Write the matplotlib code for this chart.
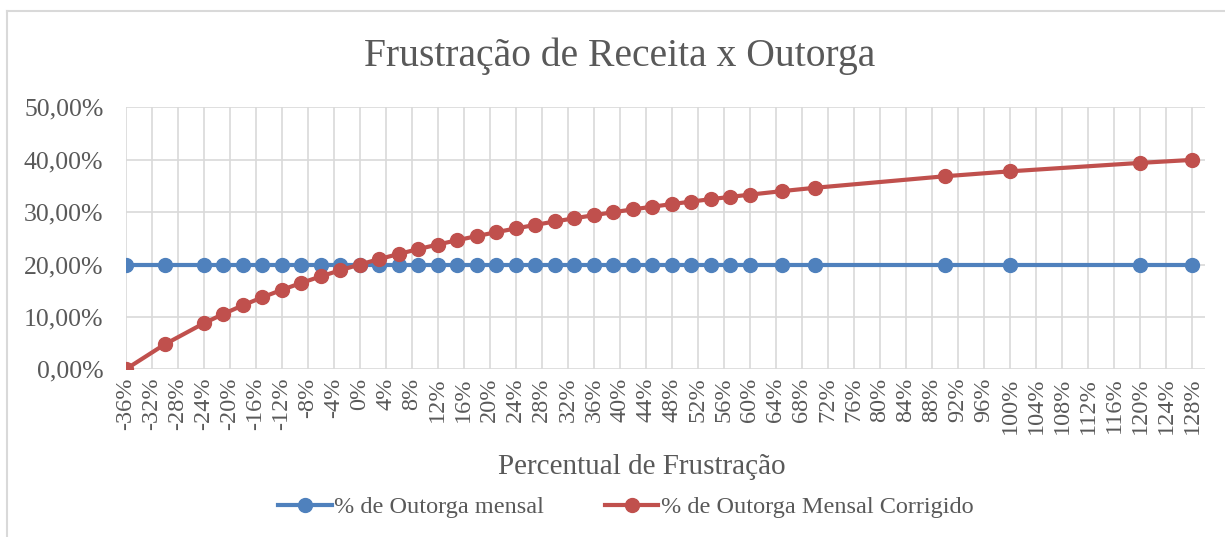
import matplotlib
matplotlib.use("Agg")
import matplotlib.pyplot as plt
from matplotlib.ticker import FuncFormatter, MultipleLocator
from matplotlib.lines import Line2D

# frustration levels (%) and the two series (%)
frustracao = [-36, -30, -24, -21, -18, -15, -12, -9, -6, -3, 0, 3, 6, 9, 12, 15, 18,
              21, 24, 27, 30, 33, 36, 39, 42, 45, 48, 51, 54, 57, 60, 65, 70, 90,
              100, 120, 128]
outorga_mensal = [20.0] * len(frustracao)
outorga_corrigido = [0.00, 4.76, 8.77, 10.55, 12.20, 13.73, 15.15, 16.48, 17.73, 18.90,
                     20.00, 21.04, 22.01, 22.94, 23.81, 24.64, 25.42, 26.17, 26.88,
                     27.56, 28.21, 28.82, 29.41, 29.98, 30.52, 31.03, 31.53, 32.01,
                     32.47, 32.91, 33.33, 34.01, 34.64, 36.84, 37.78, 39.39, 39.96]

titulo = "Frustração de Receita x Outorga"
rotulo_x = "Percentual de Frustração"
nome_azul = "% de Outorga mensal"
nome_verm = "% de Outorga Mensal Corrigido"

azul = "#4F81BD"
vermelho = "#C0504D"
cinza_txt = "#595959"
grade = "#D9D9D9"

plt.rcParams["font.family"] = ["Liberation Serif", "DejaVu Serif"]

fig = plt.figure(figsize=(12.25, 5.37), dpi=100)
ax = fig.add_axes([125.7 / 1225, 1 - 369.3 / 537, (1205 - 125.7) / 1225, (369.3 - 107.3) / 537])

ax.plot(frustracao, outorga_mensal, color=azul, lw=3, marker="o", ms=10,
        label=nome_azul, zorder=3)
ax.plot(frustracao, outorga_corrigido, color=vermelho, lw=3, marker="o", ms=10,
        label=nome_verm, zorder=4)

ax.set_xlim(-36, 130)
ax.set_ylim(0, 50)
ax.xaxis.set_major_locator(MultipleLocator(4))
ax.yaxis.set_major_locator(MultipleLocator(10))
ax.xaxis.set_major_formatter(FuncFormatter(lambda v, p: "%d%%" % round(v)))
ax.yaxis.set_major_formatter(FuncFormatter(lambda v, p: ("%.2f%%" % v).replace(".", ",")))
ax.tick_params(axis="x", labelrotation=90, length=0, pad=6, labelsize=17.5, colors=cinza_txt)
ax.tick_params(axis="y", length=0, pad=16, labelsize=18.5, colors=cinza_txt)
for lab in ax.get_xticklabels():
    lab.set_verticalalignment("top")

ax.grid(True, color=grade, lw=1.2, zorder=0)
ax.set_axisbelow(True)
for s in ax.spines.values():
    s.set_visible(False)

fig.text(0.506, 0.895, titulo, ha="center", va="center", fontsize=28.5, color=cinza_txt)
fig.text(0.524, 0.13, rotulo_x, ha="center", va="center", fontsize=21, color=cinza_txt)

leg = fig.legend(loc="center", bbox_to_anchor=(0.511, 0.055), ncol=2, frameon=False,
                 fontsize=17.5, handlelength=2.2, handletextpad=0.1, columnspacing=2.5,
                 labelcolor=cinza_txt)

# chart area border (top and left visible)
fig.add_artist(Line2D([7 / 1225, 7 / 1225], [0, 1 - 11 / 537], transform=fig.transFigure,
                      color=grade, lw=1.5))
fig.add_artist(Line2D([7 / 1225, 1], [1 - 11 / 537, 1 - 11 / 537], transform=fig.transFigure,
                      color=grade, lw=1.5))

fig.savefig("out.png", dpi=100)
